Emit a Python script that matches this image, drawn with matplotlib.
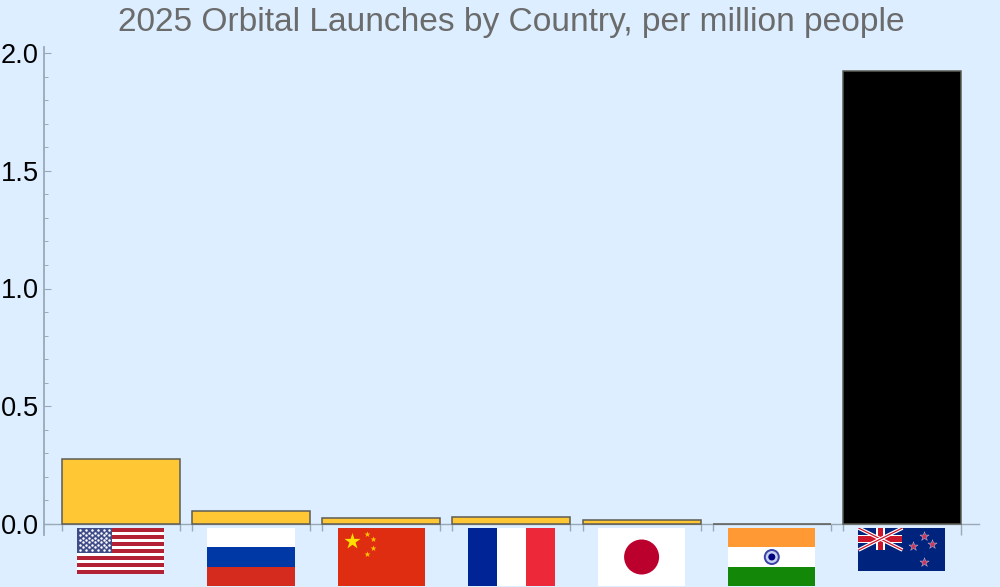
import matplotlib
matplotlib.use("Agg")
import matplotlib.pyplot as plt
from matplotlib.patches import Circle, Rectangle
from matplotlib.ticker import MultipleLocator

countries = ["USA", "Russia", "China", "France", "Japan", "India", "New Zealand"]
launches_per_million = [0.275, 0.055, 0.025, 0.031, 0.017, 0.002, 1.924]
bar_colors = ["#ffc733", "#ffc733", "#ffc733", "#ffc733", "#ffc733", "#ffc733", "#000000"]
flag_heights_px = [46, 58, 58, 58, 58, 58, 43]

BG = "#dceeff"
AXIS = "#9aa9b8"
PX_PER_UNIT = 235.5
BAR_PITCH = 130.2
BAR_WIDTH = 118 / BAR_PITCH
FLAG_WIDTH_PX = 87

plt.rcParams["font.family"] = ["Liberation Sans", "DejaVu Sans"]


def stripes(ax, w, h, colors, vertical=False):
    n = len(colors)
    for i, c in enumerate(colors):
        if vertical:
            ax.add_patch(Rectangle((i * w / n, 0), w / n, h, color=c, lw=0))
        else:
            ax.add_patch(Rectangle((0, i * h / n), w, h / n, color=c, lw=0))


def flag_usa(ax, w, h):
    stripes(ax, w, h, ["#b22234", "white"] * 6 + ["#b22234"])
    ax.add_patch(Rectangle((0, 0), 35, 7 * h / 13, color="#3f4c88", lw=0))
    xs, ys = [], []
    for row in range(9):
        count = 6 if row % 2 == 0 else 5
        for col in range(count):
            xs.append(3 + col * 5.8 + (0 if row % 2 == 0 else 2.9))
            ys.append(2.2 + row * 2.45)
    ax.scatter(xs, ys, s=3.2, color="white", lw=0)


def flag_russia(ax, w, h):
    stripes(ax, w, h, ["white", "#0039a6", "#d52b1e"])


def flag_china(ax, w, h):
    ax.add_patch(Rectangle((0, 0), w, h, color="#de2d10", lw=0))
    ax.scatter([14], [13], s=150, marker="*", color="#ffde00", lw=0)
    ax.scatter([29, 35, 35, 29], [6, 11, 20, 26], s=20, marker="*", color="#ffc800", lw=0)


def flag_france(ax, w, h):
    stripes(ax, w, h, ["#002395", "white", "#ed2939"], vertical=True)


def flag_japan(ax, w, h):
    ax.add_patch(Rectangle((0, 0), w, h, color="white", lw=0))
    ax.add_patch(Circle((w / 2, h / 2), 17.5, color="#bc002d", lw=0))


def flag_india(ax, w, h):
    stripes(ax, w, h, ["#ff9933", "white", "#138808"])
    ax.add_patch(Circle((w / 2, h / 2), 8, color="#3a44a8", lw=0))
    ax.add_patch(Circle((w / 2, h / 2), 6, color="#c9d0ee", lw=0))
    ax.add_patch(Circle((w / 2, h / 2), 3.5, color="#000080", lw=0))


def flag_nz(ax, w, h):
    ax.add_patch(Rectangle((0, 0), w, h, color="#00247d", lw=0))
    cw, ch = 44, 22
    for pts in ([(0, 0), (cw, ch)], [(0, ch), (cw, 0)]):
        ax.plot(*zip(*pts), color="white", lw=2.6, solid_capstyle="butt")
        ax.plot(*zip(*pts), color="#cc142b", lw=0.9, solid_capstyle="butt")
    ax.add_patch(Rectangle((0, ch / 2 - 4.2), cw, 8.4, color="white", lw=0))
    ax.add_patch(Rectangle((cw / 2 - 4.2, 0), 8.4, ch, color="white", lw=0))
    ax.add_patch(Rectangle((0, ch / 2 - 2.6), cw, 5.2, color="#cc142b", lw=0))
    ax.add_patch(Rectangle((cw / 2 - 2.6, 0), 5.2, ch, color="#cc142b", lw=0))
    ax.scatter([66, 74, 55, 66], [8, 16, 18, 34], s=48, marker="*",
               color="#c8375e", edgecolor="#c9c9dc", linewidths=0.3)


flag_painters = [flag_usa, flag_russia, flag_china, flag_france, flag_japan, flag_india, flag_nz]

fig = plt.figure(figsize=(10, 5.87), dpi=100, facecolor=BG)
ax = fig.add_axes([44 / 1000, (587 - 535) / 587, 935 / 1000, 488 / 587], facecolor=BG)

positions = list(range(1, len(countries) + 1))
ax.bar(positions, launches_per_million, width=BAR_WIDTH, color=bar_colors,
       edgecolor="#5c5c55", linewidth=1.1, zorder=3)

ax.set_xlim(1 - 76.8 / BAR_PITCH, 1 + 858.2 / BAR_PITCH)
ax.set_ylim(-11 / PX_PER_UNIT, 477 / PX_PER_UNIT)

for side in ["top", "right"]:
    ax.spines[side].set_visible(False)
ax.spines["bottom"].set_position(("data", 0))
ax.spines["bottom"].set_color(AXIS)
ax.spines["bottom"].set_linewidth(1.0)
ax.spines["left"].set_color(AXIS)
ax.spines["left"].set_linewidth(1.3)

edges = []
for p in positions:
    edges += [p - BAR_WIDTH / 2, p + BAR_WIDTH / 2]
ax.set_xticks(edges[:-1])
ax.set_xticklabels([])
ax.set_xticks(edges[-1:], minor=True)
ax.tick_params(axis="x", which="major", direction="out", length=5.2, width=1.0, color=AXIS)
ax.tick_params(axis="x", which="minor", direction="out", length=8, width=1.0, color=AXIS)

ax.yaxis.set_minor_locator(MultipleLocator(0.1))
ax.set_yticks([0, 0.5, 1.0, 1.5, 2.0])
ax.set_yticklabels(["0.0", "0.5", "1.0", "1.5", "2.0"])
ax.tick_params(axis="y", which="major", direction="in", length=5.2, width=0.8,
               color=AXIS, labelsize=19.6, labelcolor="black", pad=3.6)
ax.tick_params(axis="y", which="minor", direction="in", length=3, width=0.7, color=AXIS)

fig.text(0.5115, 1 - 22 / 587, "2025 Orbital Launches by Country, per million people",
         ha="center", va="center", fontsize=24.1, color="#6b6b6b")

# flags sit under the bars, one small axes each, drawn in their own pixel units
for p, h_px, paint in zip(positions, flag_heights_px, flag_painters):
    fw = FLAG_WIDTH_PX / BAR_PITCH
    fh = h_px / PX_PER_UNIT
    top = -4 / PX_PER_UNIT
    fax = ax.inset_axes([p - fw / 2, top - fh, fw, fh], transform=ax.transData)
    fax.set_xlim(0, FLAG_WIDTH_PX)
    fax.set_ylim(h_px, 0)
    fax.axis("off")
    paint(fax, FLAG_WIDTH_PX, h_px)

fig.savefig("out.png", dpi=100, facecolor=BG)
